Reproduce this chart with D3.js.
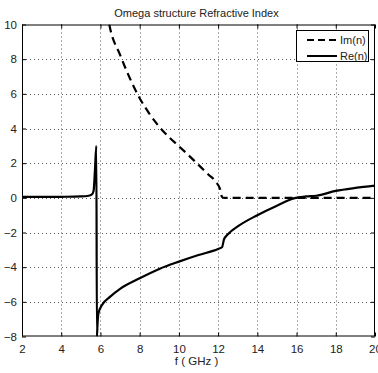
<!DOCTYPE html>
<html>
<head>
<meta charset="utf-8">
<script src="https://cdn.jsdelivr.net/npm/d3@7"></script>
<style>
  html, body { margin: 0; padding: 0; background: #fff; }
  svg { display: block; font-family: "Liberation Sans", Arial, sans-serif; }
</style>
</head>
<body>
<svg id="chart" width="378" height="373"></svg>
<script>
// Frequency axis ticks and value axis ticks
const xTicks = [2, 4, 6, 8, 10, 12, 14, 16, 18, 20];
const yTicks = [-8, -6, -4, -2, 0, 2, 4, 6, 8, 10];

// Real part of the refractive index: frequency (GHz) and value
const reFreq = [2.0, 3.0, 4.0, 5.0, 5.4, 5.55, 5.65, 5.72, 5.79, 5.82, 5.85, 5.9, 6.07, 6.5, 7.0, 8.0, 9.0, 10.0, 11.0, 12.0, 12.2, 12.3, 12.5, 13.0, 14.0, 15.0, 15.9, 16.5, 17.0, 18.0, 19.0, 20.0];
const reVal  = [0.05, 0.05, 0.06, 0.08, 0.12, 0.18, 0.4, 1.6, 3.0, -8.0, -7.3, -6.65, -6.2, -5.7, -5.25, -4.64, -4.1, -3.68, -3.3, -2.95, -2.85, -2.4, -2.1, -1.65, -1.0, -0.45, -0.02, 0.08, 0.12, 0.4, 0.57, 0.7];

// Imaginary part of the refractive index
const imFreq = [6.45, 6.5, 7.0, 7.5, 8.0, 8.5, 9.0, 9.5, 10.0, 10.5, 11.0, 11.5, 11.9, 12.1, 12.2, 12.3, 20.0];
const imVal  = [10.0, 9.74, 8.25, 6.9, 5.75, 4.85, 4.1, 3.5, 2.98, 2.45, 1.9, 1.35, 0.9, 0.5, 0.05, 0.0, 0.0];

const legendLabels = ["Im(n)", "Re(n)"];

const svg = d3.select("#chart");
const m = { left: 22, right: 375, top: 24.5, bottom: 336.5 };

const x = d3.scaleLinear().domain([2, 20]).range([m.left, m.right]);
const y = d3.scaleLinear().domain([-8, 10]).range([m.bottom, m.top]);

// Title
svg.append("text")
  .attr("x", (m.left + m.right) / 2 - 2)
  .attr("y", 17)
  .attr("text-anchor", "middle")
  .attr("font-size", 11)
  .attr("fill", "#222")
  .text("Omega structure Refractive Index");

// Dotted grid
const grid = svg.append("g").attr("stroke", "#555").attr("stroke-width", 1).attr("stroke-dasharray", "1,3");
grid.selectAll("line.gx").data(xTicks.slice(1, -1)).join("line")
  .attr("x1", d => Math.round(x(d)) + 0.5).attr("x2", d => Math.round(x(d)) + 0.5)
  .attr("y1", m.top).attr("y2", m.bottom);
grid.selectAll("line.gy").data(yTicks.slice(1, -1)).join("line")
  .attr("y1", d => Math.round(y(d)) + 0.5).attr("y2", d => Math.round(y(d)) + 0.5)
  .attr("x1", m.left).attr("x2", m.right);

// Axes with inward ticks
const xAxis = d3.axisBottom(x).tickValues(xTicks).tickSize(-4).tickPadding(8).tickFormat(d3.format("d"));
const yAxis = d3.axisLeft(y).tickValues(yTicks).tickSize(-4).tickPadding(5).tickFormat(d3.format("d"));

const gx = svg.append("g").attr("transform", `translate(0,${m.bottom})`).call(xAxis);
const gy = svg.append("g").attr("transform", `translate(${m.left},0)`).call(yAxis);
[gx, gy].forEach(g => {
  g.select(".domain").remove();
  g.selectAll(".tick line").attr("stroke", "#000");
  g.selectAll(".tick text").attr("font-size", 11.5).attr("fill", "#222").attr("font-family", "Liberation Sans, Arial, sans-serif");
});
// Mirror ticks on top and right edges
svg.append("g").attr("transform", `translate(0,${m.top})`)
  .call(d3.axisTop(x).tickValues(xTicks).tickSize(-4).tickFormat(""))
  .call(g => { g.select(".domain").remove(); g.selectAll(".tick line").attr("stroke", "#000"); });
svg.append("g").attr("transform", `translate(${m.right},0)`)
  .call(d3.axisRight(y).tickValues(yTicks).tickSize(-4).tickFormat(""))
  .call(g => { g.select(".domain").remove(); g.selectAll(".tick line").attr("stroke", "#000"); });

// X label
svg.append("text")
  .attr("x", (m.left + m.right) / 2 - 2)
  .attr("y", 365)
  .attr("text-anchor", "middle")
  .attr("font-size", 11.5)
  .attr("fill", "#222")
  .text("f ( GHz )");

// Clip for the curves
svg.append("clipPath").attr("id", "plotClip")
  .append("rect").attr("x", m.left).attr("y", m.top)
  .attr("width", m.right - m.left).attr("height", m.bottom - m.top);

const line = d3.line().x(d => x(d[0])).y(d => y(d[1])).curve(d3.curveMonotoneX);
const reData = reFreq.map((f, i) => [f, reVal[i]]);
const imData = imFreq.map((f, i) => [f, imVal[i]]);

const curves = svg.append("g").attr("clip-path", "url(#plotClip)");
curves.append("path").datum(imData)
  .attr("d", line).attr("fill", "none").attr("stroke", "#000")
  .attr("stroke-width", 2.2).attr("stroke-dasharray", "8,5");
curves.append("path").datum(reData)
  .attr("d", line).attr("fill", "none").attr("stroke", "#000")
  .attr("stroke-width", 2.2).attr("stroke-linejoin", "round");

// Plot frame
svg.append("rect")
  .attr("x", m.left + 0.5).attr("y", m.top + 0.5)
  .attr("width", m.right - m.left - 1).attr("height", m.bottom - m.top - 1)
  .attr("fill", "none").attr("stroke", "#000").attr("stroke-width", 1);

// Legend
const lg = svg.append("g");
lg.append("rect").attr("x", 296.5).attr("y", 30.5).attr("width", 72).attr("height", 31)
  .attr("fill", "#fff").attr("stroke", "#000").attr("stroke-width", 1);
legendLabels.forEach((lab, i) => {
  const yy = 40 + i * 16;
  lg.append("line").attr("x1", 307).attr("x2", 337).attr("y1", yy).attr("y2", yy)
    .attr("stroke", "#000").attr("stroke-width", 2)
    .attr("stroke-dasharray", i === 0 ? "7,4" : null);
  lg.append("text").attr("x", 340).attr("y", yy + 4)
    .attr("font-size", 11).attr("fill", "#222").text(lab);
});
</script>
</body>
</html>
